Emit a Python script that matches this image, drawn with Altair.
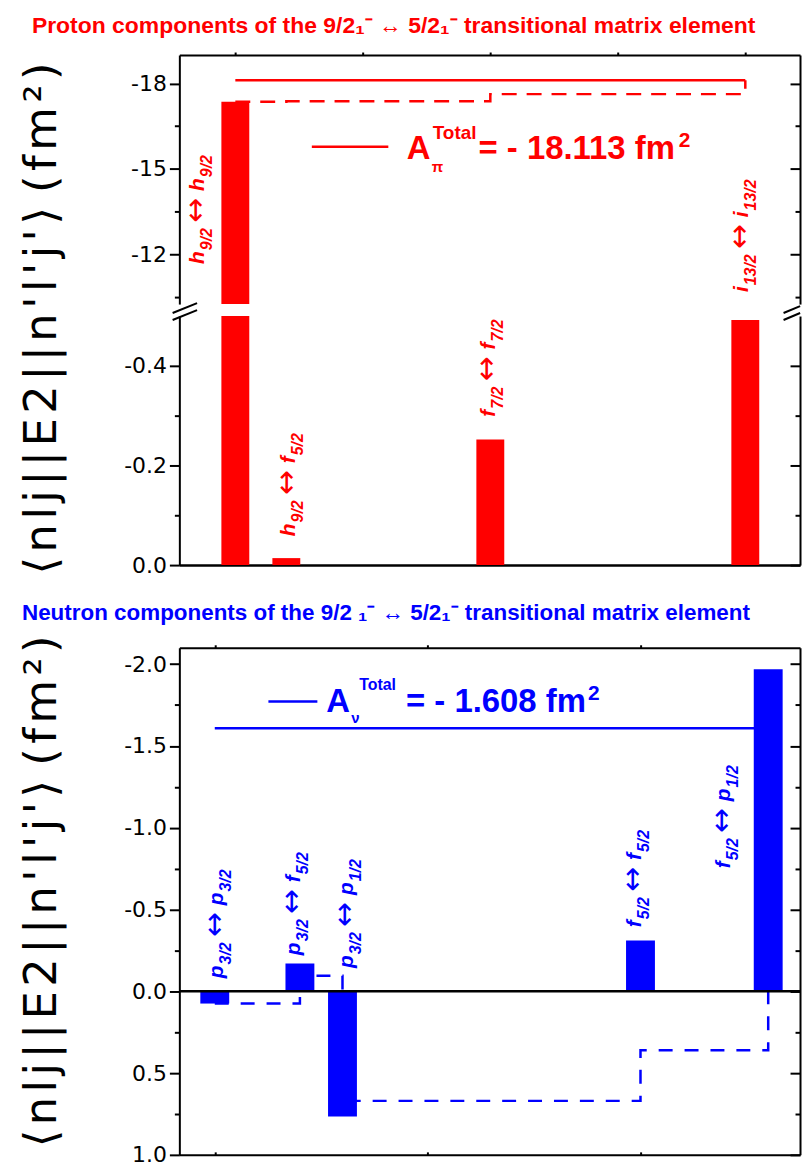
import altair as alt
import pandas as pd

RED = "#ff0000"
BLUE = "#0000ff"
SANS = "Liberation Sans, Arial, Helvetica, sans-serif"
NARROW = "Liberation Sans Narrow, Arial Narrow, Liberation Sans, sans-serif"
AXF = "DejaVu Sans"

# ---------------- data ----------------
# proton components
p_x = [1.0, 1.4, 3.0, 5.0]
p_val = [-17.36, -0.014, -0.252, -0.492]
p_cum = [-17.36, -17.374, -17.626, -18.113]
p_total = -18.113
p_from_orb = ["h", "h", "f", "i"]
p_from_j = ["9/2", "9/2", "7/2", "13/2"]
p_to_orb = ["h", "f", "f", "i"]
p_to_j = ["9/2", "5/2", "7/2", "13/2"]

# neutron components
n_x = [1.0, 1.4, 1.6, 3.0, 3.6]
n_val = [0.075, -0.170, 0.765, -0.310, -1.968]
n_cum = [0.075, -0.095, 0.670, 0.360, -1.608]
n_total = -1.608
n_from_orb = ["p", "p", "p", "f", "f"]
n_from_j = ["3/2", "3/2", "3/2", "5/2", "5/2"]
n_to_orb = ["p", "f", "p", "f", "p"]
n_to_j = ["3/2", "5/2", "1/2", "5/2", "1/2"]

# axis ticks
top_major = [-18, -15, -12]
top_minor = [-16.5, -13.5, -10.5]
low_major = [0.0, -0.2, -0.4]
low_minor = [-0.1, -0.3]
bot_major = [-2.0, -1.5, -1.0, -0.5, 0.0, 0.5, 1.0]
bot_minor = [-1.75, -1.25, -0.75, -0.25, 0.25, 0.75]
x_ticks_top = [1, 2, 3, 4, 5]
x_ticks_bot = [1, 2, 3]

HS = "\u200a"  # hair space, used as letter spacing in the wide axis title
YTITLE = HS.join("⟨nlj||E2||n'l'j'⟩") + " " + HS.join("(fm²)")
TITLE_P = "Proton components of the 9/2₁⁻ ↔  5/2₁⁻ transitional matrix element"
TITLE_N = "Neutron components of the 9/2 ₁⁻ ↔ 5/2₁⁻ transitional matrix element"

# ---------------- layout ----------------
W = 623
HU, HL, HB = 250, 250, 509
U_LO, U_HI = -19.0, -10.25
L_LO, L_HI = -0.5, 0.0

XS_T = alt.Scale(domain=[0.6, 5.39], nice=False, zero=False)
YS_U = alt.Scale(domain=[U_LO, U_HI], reverse=True, nice=False, zero=False)
YS_L = alt.Scale(domain=[L_LO, L_HI], reverse=True, nice=False, zero=False)
XS_B = alt.Scale(domain=[0.857, 3.726], nice=False, zero=False)
YS_B = alt.Scale(domain=[-2.1, 1.0], reverse=True, nice=False, zero=False)

ONE = pd.DataFrame({"k": [0]})


def lab_expr(fmt):
    return "(datum.value < 0 ? '-' : '') + format(abs(datum.value), '" + fmt + "')"


def left_major(values, fmt, title=None, title_y=None):
    kw = dict(orient="left", values=values, tickSize=10, tickWidth=2, labelExpr=lab_expr(fmt),
              labelPadding=3, labelFont=AXF, labelFontSize=22, labelColor="black",
              domain=True, domainWidth=2, grid=False)
    if title:
        kw.update(title=title, titleFont=AXF, titleFontSize=45, titleFontWeight="normal",
                  titleAngle=270, titleAlign="center", titleBaseline="alphabetic",
                  titleX=-124, titleY=title_y, titleColor="black")
    else:
        kw.update(title=None)
    return alt.Axis(**kw)


def left_minor(values):
    return alt.Axis(orient="left", values=values, tickSize=5, tickWidth=2, labels=False,
                    domain=False, grid=False, title=None)


def right_major(values):
    return alt.Axis(orient="left", offset=-W, values=values, tickSize=10, tickWidth=2,
                    labels=False, domain=True, domainWidth=2, grid=False, title=None)


def right_minor(values):
    return alt.Axis(orient="left", offset=-W, values=values, tickSize=5, tickWidth=2,
                    labels=False, domain=False, grid=False, title=None)


def carrier(x0, values, xs, ys, axis):
    df = pd.DataFrame({"x": [x0] * len(values), "v": values})
    return alt.Chart(df).mark_point(opacity=0).encode(
        x=alt.X("x:Q", scale=xs, axis=None), y=alt.Y("v:Q", scale=ys, axis=axis))


def txt(text, x, y, xs, ys, color, size, dx=0, dy=0, angle=0, bold=True, italic=False, font=SANS):
    return alt.Chart(ONE).mark_text(
        text=text, angle=angle, dx=dx, dy=dy, align="left", baseline="alphabetic",
        fontSize=size, fontWeight="bold" if bold else "normal",
        fontStyle="italic" if italic else "normal", font=font, color=color,
    ).encode(x=alt.XDatum(x, type="quantitative", scale=xs, axis=None),
             y=alt.YDatum(y, type="quantitative", scale=ys, axis=None))


def seg(x1, x2, y1, xs, ys, color, width, dash=None):
    props = dict(color=color, strokeWidth=width)
    if dash:
        props["strokeDash"] = dash
    return alt.Chart(ONE).mark_rule(**props).encode(
        x=alt.XDatum(x1, type="quantitative", scale=xs, axis=None), x2=alt.X2Datum(x2),
        y=alt.YDatum(y1, type="quantitative", scale=ys, axis=None))


def step_line(xv, cv, xs, ys, color, dash, yaxis, xaxis=None):
    df = pd.DataFrame({"x": xv, "c": cv})
    return alt.Chart(df).mark_line(color=color, strokeWidth=2.5, strokeDash=dash,
                                   interpolate="step-after").encode(
        x=alt.X("x:Q", scale=xs, axis=xaxis), y=alt.Y("c:Q", scale=ys, axis=yaxis))


# bold-italic advance widths (em)
BI = {"h": .611, "f": .333, "i": .278, "p": .611, "/": .278}


def tw(s, size):
    return sum(BI.get(c, .556) for c in s) * size


MAIN, SUB, ARW, DROP = 21, 16, 30, 8


def orbital_label(x, y, shift, o1, j1, o2, j2, color, xs, ys):
    pieces = []
    a = 0.0
    pieces.append((o1, MAIN, a, 0, True, SANS))
    a += tw(o1, MAIN) + 1
    pieces.append((j1, SUB, a, DROP, True, SANS))
    a += tw(j1, SUB) + 5
    pieces.append(("↔", ARW, a, 1, False, "DejaVu Sans"))
    a += ARW * 0.838 + 7
    pieces.append((o2, MAIN, a, 0, True, SANS))
    a += tw(o2, MAIN) + 1
    pieces.append((j2, SUB, a, DROP, True, SANS))
    out = []
    for t, size, along, perp, it, fnt in pieces:
        out.append(txt(t, x, y, xs, ys, color, size, dx=along, dy=shift + perp, angle=270,
                       bold=it, italic=it, font=fnt))
    return out


def legend(xs, ys, line_x, line_y, ax, ay, color, greek, value_text,
           tot_dx, tot_dy, tot_size, g_dx, g_dy, eq_dx):
    out = [seg(line_x[0], line_x[1], line_y, xs, ys, color, 2.5)]
    out.append(txt("A", ax, ay, xs, ys, color, 33))
    out.append(txt("Total", ax, ay, xs, ys, color, tot_size, dx=tot_dx, dy=tot_dy))
    out.append(txt(greek, ax, ay, xs, ys, color, 15, dx=g_dx, dy=g_dy))
    out.append(txt(value_text, ax, ay, xs, ys, color, 33, dx=eq_dx))
    widths = {"=": .584, " ": .278, "-": .333, ".": .278, "f": .333, "m": .889}
    w = sum(widths.get(c, .556) for c in value_text) * 33
    out.append(txt("2", ax, ay, xs, ys, color, 21, dx=eq_dx + w + 2, dy=-12))
    return out


# ---------------- upper part of proton panel ----------------
u_df = pd.DataFrame({"x": [x for x, v in zip(p_x, p_val) if v < U_HI],
                     "v": [v for v in p_val if v < U_HI]})
u_df["b"] = U_HI
bars_u = alt.Chart(u_df).mark_bar(color=RED, size=28, orient="vertical").encode(
    x=alt.X("x:Q", scale=XS_T,
            axis=alt.Axis(orient="top", values=x_ticks_top, tickSize=3, tickWidth=2, labels=False,
                          domain=True, domainWidth=2, grid=False, title=None)),
    y=alt.Y("v:Q", scale=YS_U, axis=left_major(top_major, "d", YTITLE, 264)),
    y2=alt.Y2("b:Q"))

u_layers = [step_line(p_x, p_cum, XS_T, YS_U, RED, [15, 10], right_major(top_major)),
            seg(p_x[0], p_x[-1], p_total, XS_T, YS_U, RED, 2.5)]
u_layers += legend(XS_T, YS_U, (1.6, 2.2), -15.78, 2.345, -15.335, RED, "π",
                   "= - 18.113 fm", 26, -20, 19, 25, 13, 72)
u_layers += [bars_u,
             carrier(p_x[0], top_minor, XS_T, YS_U, left_minor(top_minor)),
             carrier(p_x[0], top_minor, XS_T, YS_U, right_minor(top_minor))]

# ---------------- lower part of proton panel ----------------
l_df = pd.DataFrame({"x": p_x, "v": [max(v, L_LO) for v in p_val]})
l_df["b"] = L_HI
bars_l = alt.Chart(l_df).mark_bar(color=RED, size=28, orient="vertical").encode(
    x=alt.X("x:Q", scale=XS_T,
            axis=alt.Axis(orient="bottom", ticks=False, labels=False, domain=True,
                          domainWidth=2.5, grid=False, title=None)),
    y=alt.Y("v:Q", scale=YS_L, axis=left_major(low_major, ".1f")),
    y2=alt.Y2("b:Q"))
l_layers = [bars_l,
            carrier(p_x[0], low_minor, XS_T, YS_L, left_minor(low_minor)),
            carrier(p_x[0], low_major, XS_T, YS_L, right_major(low_major)),
            carrier(p_x[0], low_minor, XS_T, YS_L, right_minor(low_minor))]

brk = pd.DataFrame({"x": [0.508, 0.508, 5.30, 5.30], "x2": [0.70, 0.70, 5.43, 5.43],
                    "y": [-0.506, -0.492, -0.506, -0.492], "y2": [-0.526, -0.512, -0.520, -0.506]})
l_layers.append(alt.Chart(brk).mark_rule(color="black", strokeWidth=2).encode(
    x=alt.X("x:Q", scale=XS_T, axis=None), x2="x2:Q",
    y=alt.Y("y:Q", scale=YS_L, axis=None), y2="y2:Q"))

# proton orbital labels: panel, start (data units), sideways pixel shift
p_lab_panel = ["U", "L", "L", "U"]
p_lab_start = [-11.66, -0.058, -0.298, -10.67]
p_lab_shift = [-31, 9, 5, 3]
for i in range(len(p_x)):
    ys = YS_U if p_lab_panel[i] == "U" else YS_L
    layer = orbital_label(p_x[i], p_lab_start[i], p_lab_shift[i], p_from_orb[i], p_from_j[i],
                          p_to_orb[i], p_to_j[i], RED, XS_T, ys)
    (u_layers if p_lab_panel[i] == "U" else l_layers).extend(layer)

U = alt.layer(*u_layers).properties(width=W, height=HU).resolve_axis(x="independent", y="independent")
L = alt.layer(*l_layers).properties(width=W, height=HL).resolve_axis(x="independent", y="independent")

proton = alt.vconcat(U, L, spacing=12, bounds="flush",
                     title=alt.TitleParams(TITLE_P, anchor="start", color=RED, font=NARROW,
                                           fontSize=23, fontWeight="bold", offset=13, dx=12))

# ---------------- neutron panel ----------------
b_df = pd.DataFrame({"x": n_x, "v": n_val})
b_df["b"] = 0.0
bars_b = alt.Chart(b_df).mark_bar(color=BLUE, size=29, orient="vertical").encode(
    x=alt.X("x:Q", scale=XS_B,
            axis=alt.Axis(orient="top", values=x_ticks_bot, tickSize=3, tickWidth=2, labels=False,
                          domain=True, domainWidth=2, grid=False, title=None)),
    y=alt.Y("v:Q", scale=YS_B, axis=left_major(bot_major, ".1f", YTITLE, 244)),
    y2=alt.Y2("b:Q"))

b_layers = [step_line(n_x, n_cum, XS_B, YS_B, BLUE, [14, 12], right_major(bot_major),
                      xaxis=alt.Axis(orient="top", offset=-HB, values=x_ticks_bot, tickSize=3,
                                     tickWidth=2, labels=False, domain=True, domainWidth=2,
                                     grid=False, title=None)),
            seg(n_x[0], n_x[-1], n_total, XS_B, YS_B, BLUE, 2.5)]
b_layers += legend(XS_B, YS_B, (1.252, 1.482), -1.771, 1.524, -1.71, BLUE, "ν",
                   "= - 1.608 fm", 33, -22, 16, 25, 11, 80)
b_layers += [bars_b,
             alt.Chart(ONE).mark_rule(color="black", strokeWidth=2.5).encode(
                 y=alt.YDatum(0, type="quantitative", scale=YS_B, axis=None)),
             carrier(n_x[0], bot_minor, XS_B, YS_B, left_minor(bot_minor)),
             carrier(n_x[0], bot_minor, XS_B, YS_B, right_minor(bot_minor))]

n_lab_start = [-0.080, -0.221, -0.142, -0.392, -0.752]
n_lab_shift = [8, 0, 11, 1, -38]
for i in range(len(n_x)):
    b_layers += orbital_label(n_x[i], n_lab_start[i], n_lab_shift[i], n_from_orb[i], n_from_j[i],
                              n_to_orb[i], n_to_j[i], BLUE, XS_B, YS_B)

B = alt.layer(*b_layers).properties(
    width=W, height=HB,
    title=alt.TitleParams(TITLE_N, anchor="start", color=BLUE, font=NARROW, fontSize=22.5,
                          fontWeight="bold", offset=10, dx=2),
).resolve_axis(x="independent", y="independent")

chart = alt.vconcat(proton, B, spacing=26,
                    padding={"left": 11, "top": 5, "right": 0, "bottom": 0}).configure_view(
    stroke=None).configure_axis(grid=False, domainColor="black", tickColor="black")

chart.save("out.html", embed_options={"renderer": "svg", "actions": False})
